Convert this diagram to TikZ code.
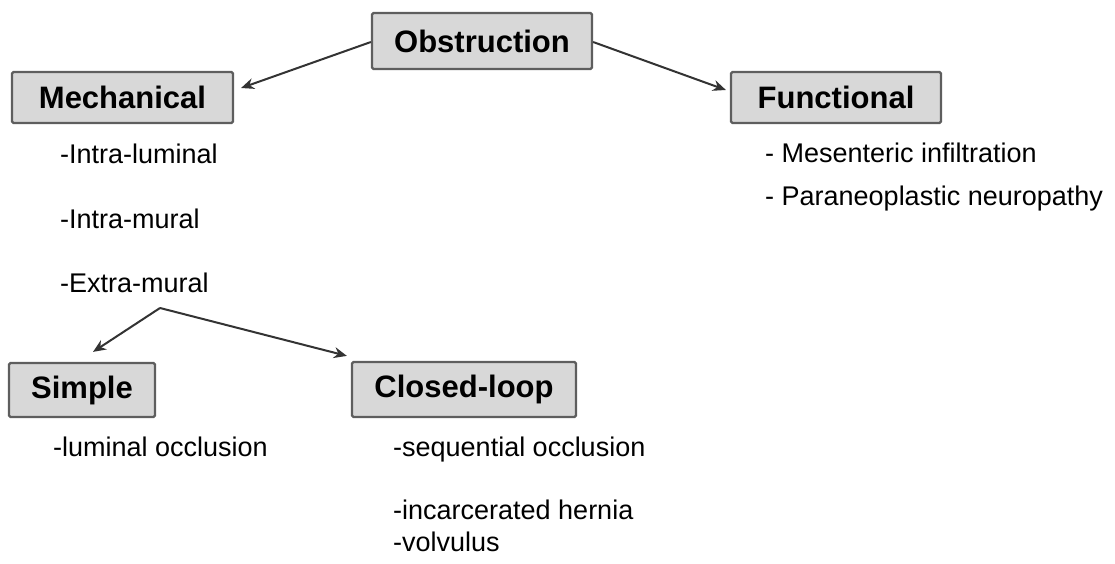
\documentclass[tikz,border=0pt]{standalone}
\usepackage{fontspec}
\setmainfont{Liberation Sans}
\usetikzlibrary{arrows.meta}
\definecolor{boxfill}{HTML}{D8D8D8}
\definecolor{boxline}{HTML}{5E5E5E}
\definecolor{arrowcol}{HTML}{333333}
\begin{document}
\begin{tikzpicture}[x=1pt,y=-1pt,
  catbox/.style={draw=boxline, fill=boxfill, line width=2.2pt, rounded corners=1.5pt,
    inner sep=0pt, font=\fontsize{31}{36}\selectfont\bfseries, text=black},
  item/.style={anchor=base west, inner sep=0pt, font=\fontsize{27}{32}\selectfont, text=black},
  link/.style={draw=arrowcol, line width=2pt, -{Stealth[length=13pt,width=11pt]}}]
\useasboundingbox (0,0) rectangle (1115,564);
\node[catbox, minimum width=220pt, minimum height=56pt] (obs) at (482,41) {Obstruction};
\node[catbox, minimum width=221pt, minimum height=51pt] (mech) at (122.5,97.5) {Mechanical};
\node[catbox, minimum width=210pt, minimum height=51pt] (func) at (836,97.5) {Functional};
\node[catbox, minimum width=146pt, minimum height=54pt] (simple) at (82,390) {Simple};
\node[catbox, minimum width=224pt, minimum height=55pt] (closed) at (464,389.5) {Closed-loop};

\node[item] (t1) at (60,164) {-Intra-luminal};
\node[item] (t2) at (60,228) {-Intra-mural};
\node[item] (t3) at (60,292) {-Extra-mural};
\node[item] (f1) at (765,163) {- Mesenteric infiltration};
\node[item] (f2) at (765,205) {- Paraneoplastic neuropathy};
\node[item] (s1) at (53,456) {-luminal occlusion};
\node[item] (c1) at (393,456) {-sequential occlusion};
\node[item] (c2) at (393,519) {-incarcerated hernia};
\node[item] (c3) at (393,551) {-volvulus};

\coordinate (apex) at (160,308);

\draw[link] ([yshift=-1pt]obs.west) -- ([xshift=7pt,yshift=9.5pt]mech.east);
\draw[link] ([yshift=-1pt]obs.east) -- ([xshift=-4pt,yshift=7.5pt]func.west);
\draw[link] (apex) -- ([xshift=11pt,yshift=10pt]simple.north);
\draw[link] (apex) -- ([xshift=-4pt,yshift=5pt]closed.north west);
\end{tikzpicture}
\end{document}
